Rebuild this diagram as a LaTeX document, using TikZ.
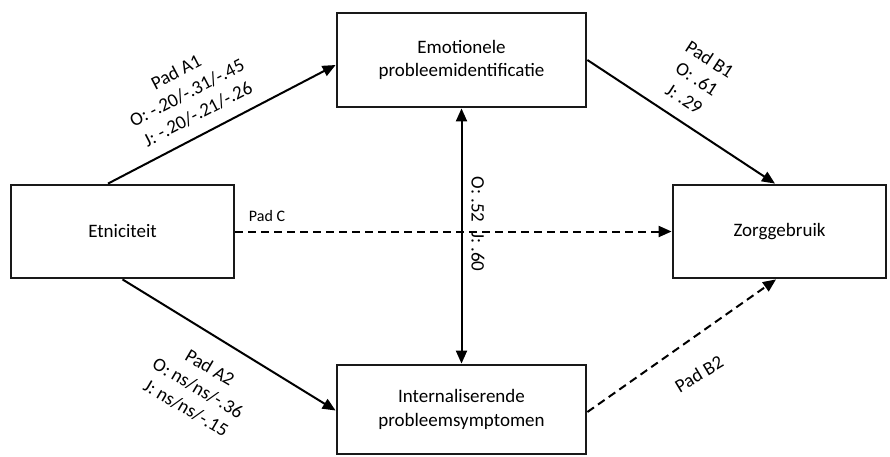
\documentclass[tikz,border=0pt]{standalone}
\usepackage{fontspec}
\setmainfont{Carlito}
\usetikzlibrary{arrows.meta}
\begin{document}
\begin{tikzpicture}[x=1pt,y=-1pt,
  box/.style={draw=black!90,line width=2.8pt,fill=white,align=center,inner sep=0pt,
    font=\fontsize{19}{23.5}\selectfont},
  conn/.style={line width=2pt,-{Triangle[length=13pt,width=11pt]}},
  dconn/.style={conn,dash pattern=on 8pt off 5pt},
  lbl/.style={align=center,inner sep=0pt,font=\fontsize{19}{23.5}\selectfont}]
\useasboundingbox (0,0) rectangle (890,456);
\node[box,minimum width=223pt,minimum height=93pt] (etn) at (122.5,231.5) {Etniciteit};
\node[box,minimum width=249pt,minimum height=94pt] (emo) at (461.5,60) {Emotionele\\probleemidentificatie};
\node[box,minimum width=249pt,minimum height=89pt] (int) at (461.5,409.5) {Internaliserende\\probleemsymptomen};
\node[box,minimum width=213pt,minimum height=93pt] (zorg) at (779.5,231.5) {Zorggebruik};
% connectors
\draw[conn] ([xshift=-14.5pt]etn.north) -- ([yshift=-5pt]emo.west);
\draw[conn] (emo.east) -- ([xshift=-4.5pt]zorg.north);
\draw[conn] (etn.south) -- ([yshift=-1pt]int.west);
\draw[dconn] ([yshift=-2.5pt]int.east) -- ([xshift=-3.5pt]zorg.south);
\draw[dconn] (etn.east) -- (zorg.west);
\draw[line width=2pt,{Triangle[length=13pt,width=11pt]}-{Triangle[length=13pt,width=11pt]}] (emo.south) -- (int.north);
% labels
\node[lbl,rotate=27.6] (la1) at (187,93) {Pad A1\\O: -.20/-.31/-.45\\J: -.20/-.21/-.26};
\node[lbl,rotate=-33] (lb1) at (697,79) {Pad B1\\O: .61\\J: .29};
\node[lbl,rotate=-30.5] (la2) at (198,388) {Pad A2\\O: ns/ns/-.36\\J: ns/ns/-.15};
\node[lbl,rotate=31] (lb2) at (699,374) {Pad B2};
\node[lbl,font=\fontsize{16}{19}\selectfont] (lc) at (267,216) {Pad C};
\node[lbl,rotate=-90] (lv) at (478,224) {O: .52\enspace J: .60};
\end{tikzpicture}
\end{document}
